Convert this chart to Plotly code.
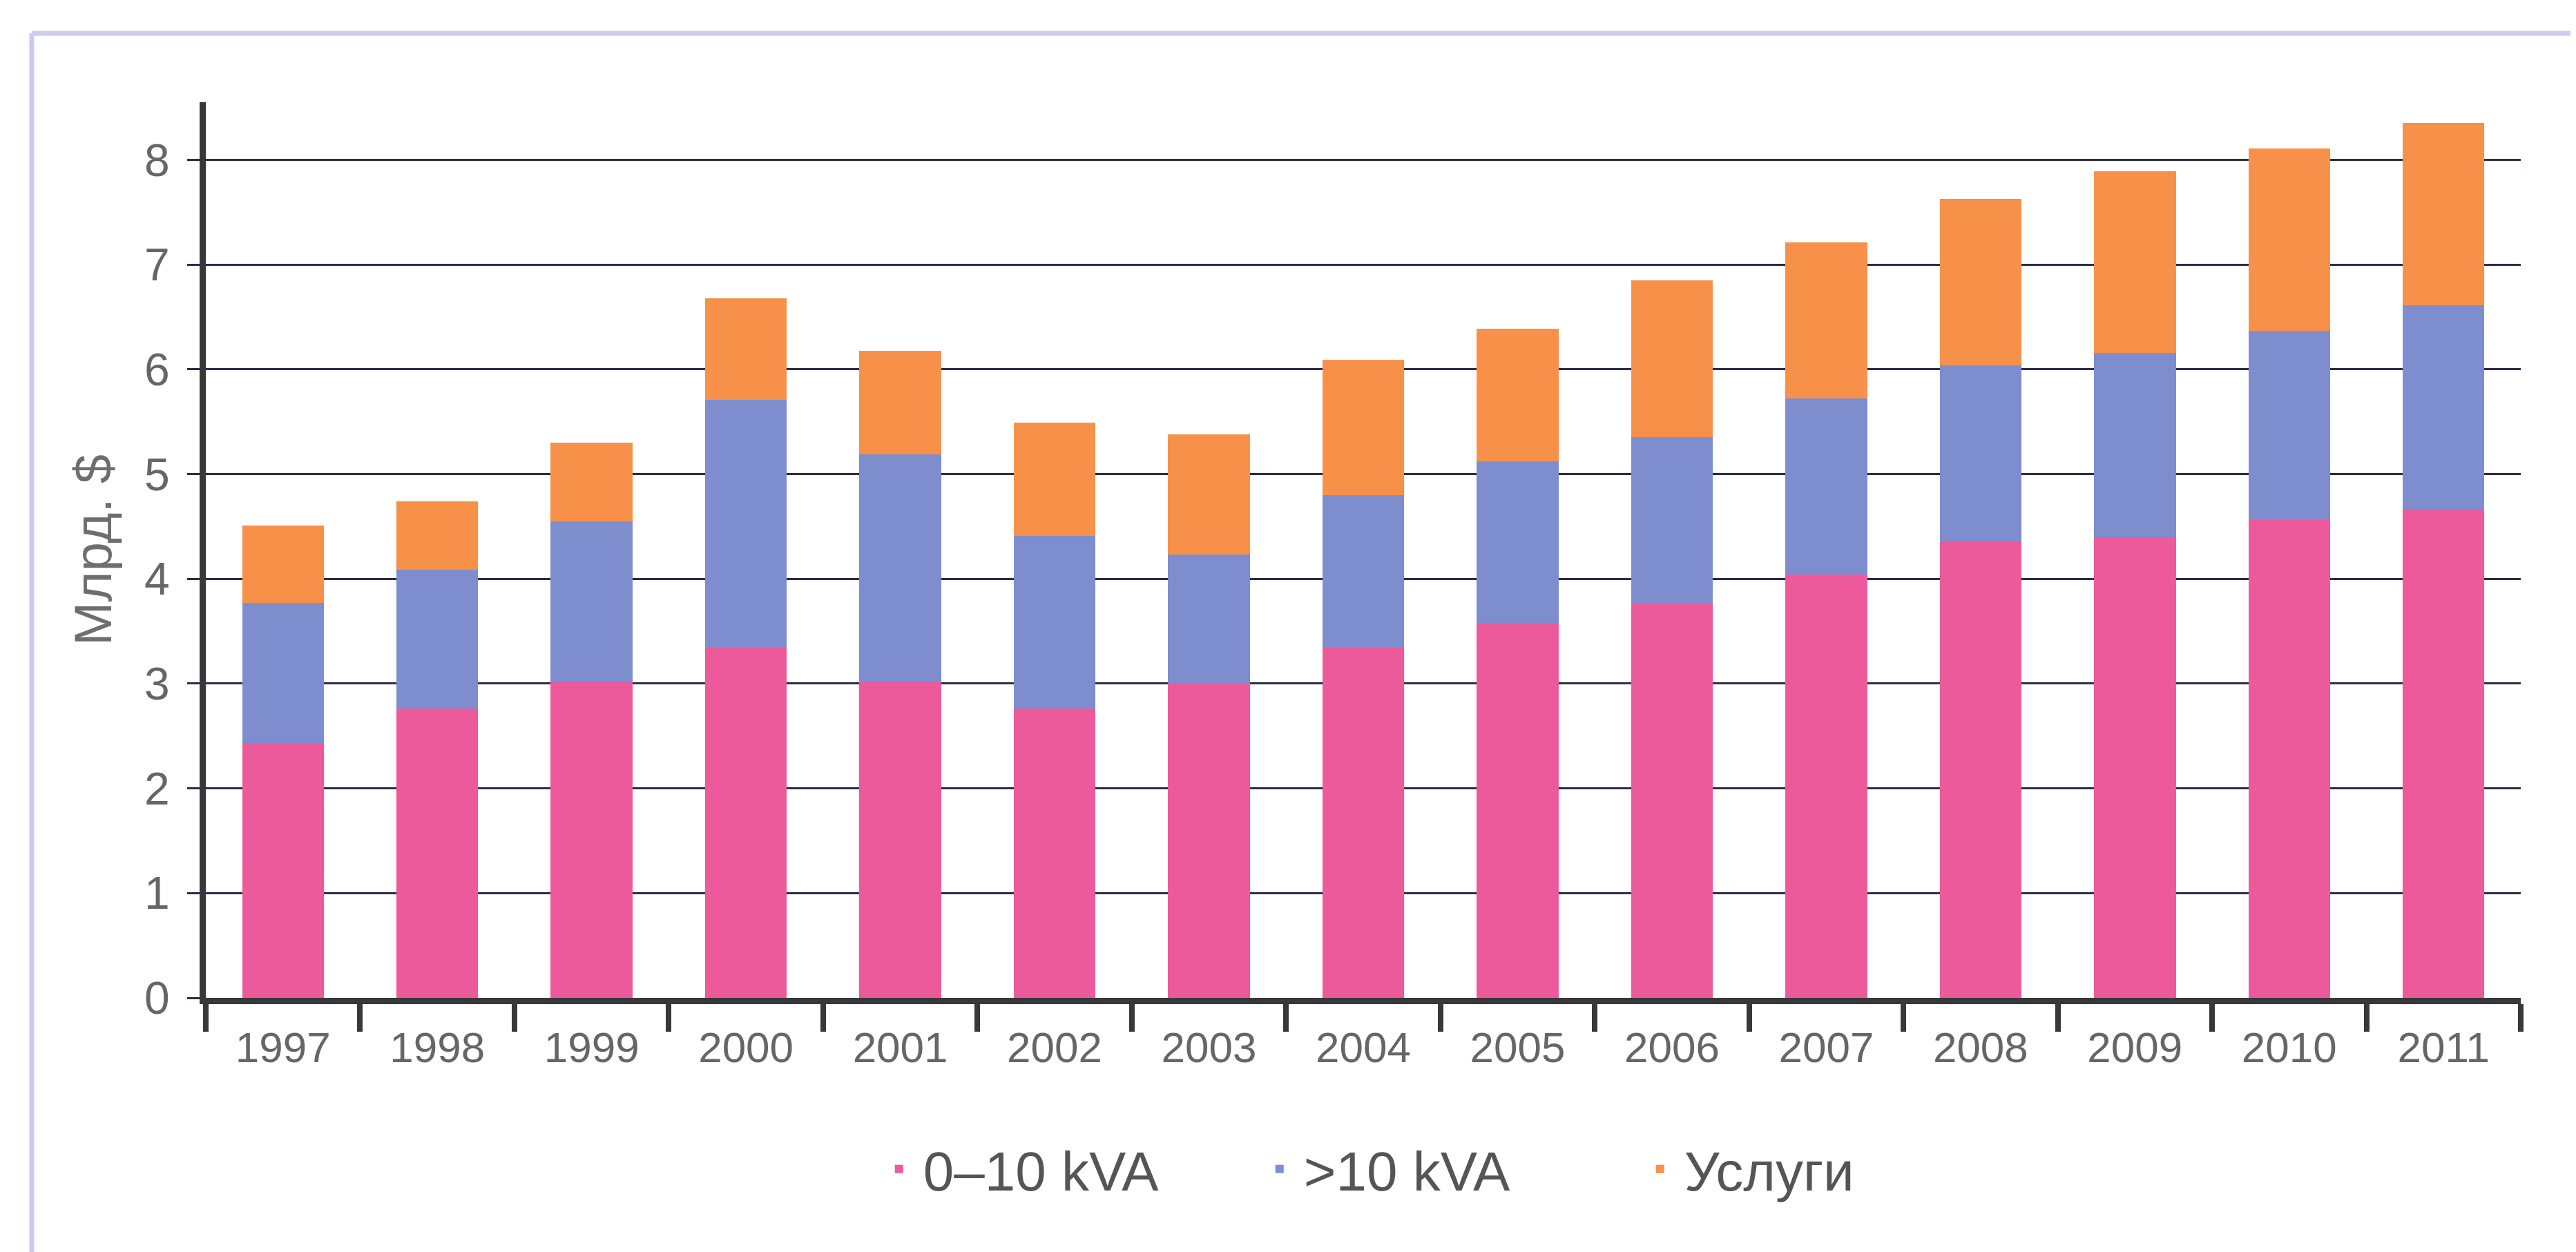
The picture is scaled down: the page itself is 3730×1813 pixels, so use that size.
import plotly.graph_objects as go

years = ["1997", "1998", "1999", "2000", "2001", "2002", "2003", "2004",
         "2005", "2006", "2007", "2008", "2009", "2010", "2011"]
kva_0_10 = [2.43, 2.76, 3.01, 3.34, 3.01, 2.76, 3.00, 3.34, 3.58, 3.77, 4.04, 4.35, 4.40, 4.56, 4.67]
kva_over_10 = [1.34, 1.33, 1.54, 2.37, 2.18, 1.65, 1.23, 1.46, 1.54, 1.58, 1.68, 1.69, 1.76, 1.81, 1.94]
services = [0.74, 0.65, 0.75, 0.97, 0.99, 1.08, 1.15, 1.29, 1.27, 1.50, 1.49, 1.59, 1.73, 1.74, 1.74]
y_ticks = [0, 1, 2, 3, 4, 5, 6, 7, 8]

names = ["0–10 kVA", ">10 kVA", "Услуги"]
colors = ["#EC5A9B", "#7E8DCE", "#F7914A"]

fig = go.Figure()
for name, vals, col in zip(names, [kva_0_10, kva_over_10, services], colors):
    fig.add_trace(go.Bar(x=years, y=vals, name=name, marker=dict(color=col, line=dict(width=0)),
                         width=0.53))

font_family = "Liberation Sans, Arial, sans-serif"
fig.update_layout(
    barmode="stack",
    width=3730, height=1813,
    margin=dict(l=290, r=88, t=140, b=376, autoexpand=False),
    paper_bgcolor="white", plot_bgcolor="white",
    font=dict(family=font_family, color="#666666", size=60),
    showlegend=True,
    legend=dict(orientation="h", x=0.289, xanchor="left", y=-0.191, yanchor="middle",
                font=dict(size=80, color="#555555"), itemwidth=60,
                traceorder="normal", entrywidth=476),
    xaxis=dict(type="category", range=[-0.5, 14.5], showline=True, linewidth=9, linecolor="#383838",
               ticks="outside", tickson="boundaries", ticklen=40, tickwidth=8, tickcolor="#383838",
               ticklabelstandoff=10,
               showgrid=False, tickfont=dict(size=62, color="#666666"), fixedrange=True),
    yaxis=dict(range=[0, 8.55], tickvals=y_ticks, showline=True, linewidth=9, linecolor="#383838",
               showgrid=True, gridcolor="#2E2A48", gridwidth=3, zeroline=False,
               ticks="outside", ticklen=18, tickwidth=3, tickcolor="#2E2A48",
               ticklabelstandoff=12,
               tickfont=dict(size=66, color="#666666"),
               title=dict(text="Млрд. $", font=dict(size=76, color="#6e6e6e"), standoff=26),
               fixedrange=True),
    shapes=[
        dict(type="line", xref="paper", yref="paper", x0=-0.0752, x1=-0.0752, y0=1.077, y1=-0.29,
             line=dict(color="#C9CBF2", width=7), layer="below"),
        dict(type="line", xref="paper", yref="paper", x0=-0.0752, x1=1.03, y0=1.077, y1=1.077,
             line=dict(color="#CBCDF3", width=7), layer="below"),
    ],
)

fig.write_html("out.html")
